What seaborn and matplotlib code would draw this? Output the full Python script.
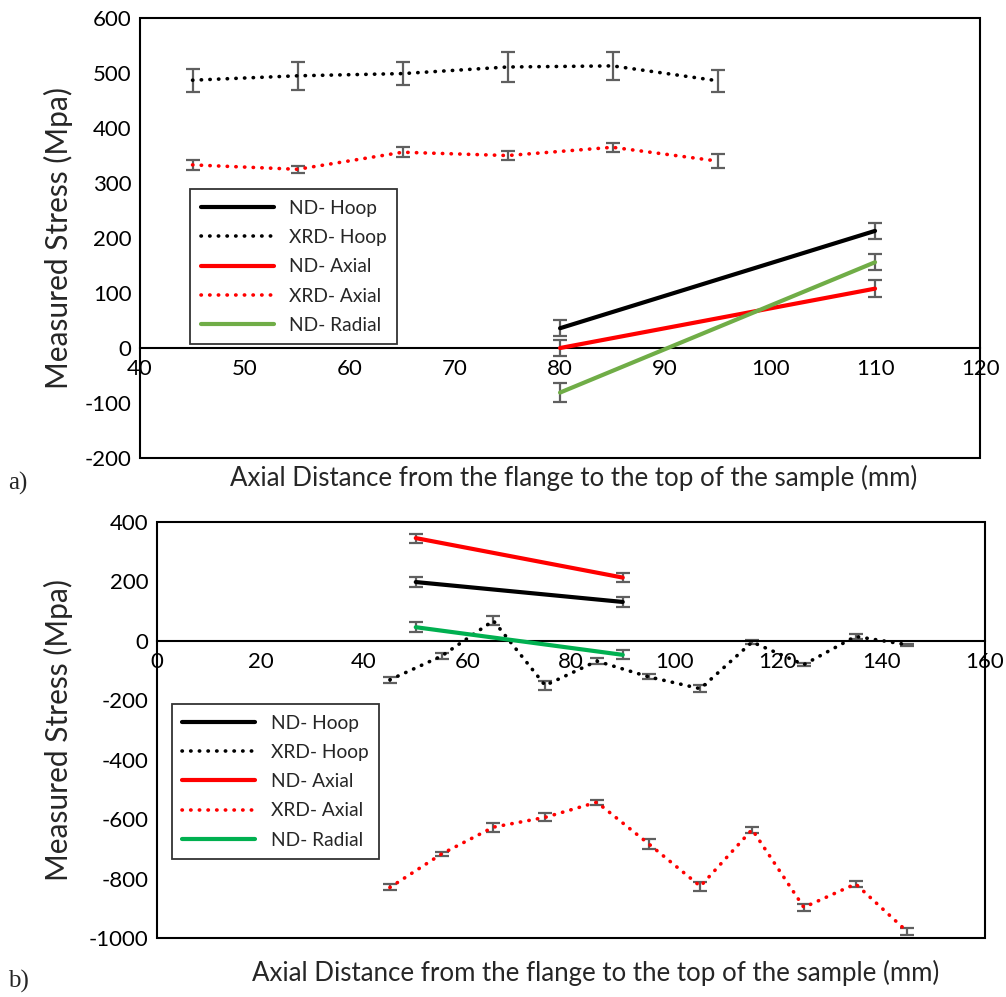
import numpy as np
import pandas as pd
import matplotlib
matplotlib.use('Agg')
import matplotlib.pyplot as plt
import seaborn as sns
from matplotlib.patches import Rectangle

sns.set_style('white')
plt.rcParams['font.family'] = ['Lato', 'DejaVu Sans']
plt.rcParams['axes.unicode_minus'] = False

# a) top chart
a_xrd_x = [45, 55, 65, 75, 85, 95]
a_xrd_hoop = [487, 495, 499, 511, 513, 486]
a_xrd_hoop_err = [21, 25, 21, 27, 26, 20]
a_xrd_axial = [333, 325, 356, 350, 365, 340]
a_xrd_axial_err = [9, 6, 9, 8, 8, 12]
a_nd_x = [80, 110]
a_nd_hoop = [36, 213]
a_nd_hoop_err = [15, 15]
a_nd_axial = [0, 108]
a_nd_axial_err = [15, 15]
a_nd_radial = [-81, 156]
a_nd_radial_err = [17, 15]

# b) bottom chart
b_nd_x = [50, 90]
b_nd_hoop = [198, 131]
b_nd_hoop_err = [17, 17]
b_nd_axial = [346, 213]
b_nd_axial_err = [15, 15]
b_nd_radial = [46, -47]
b_nd_radial_err = [17, 15]
b_xrd_x = [45, 55, 65, 75, 85, 95, 105, 115, 125, 135, 145]
b_xrd_hoop = [-131, -51, 68, -150, -68, -121, -161, -4, -80, 15, -13]
b_xrd_hoop_err = [10, 10, 15, 15, 10, 8, 12, 6, 6, 8, 4]
b_xrd_axial = [-830, -717, -627, -594, -543, -683, -826, -635, -897, -818, -979]
b_xrd_axial_err = [10, 8, 15, 13, 8, 17, 15, 10, 12, 10, 12]

labels = ['ND- Hoop', 'XRD- Hoop', 'ND- Axial', 'XRD- Axial', 'ND- Radial']
dot = (0, (0.1, 2.3))
err_col = '#5f5f5f'


def draw(ax, nd_x, nd, nd_err, xrd_x, xrd, xrd_err, green):
    series = [
        (nd_x, nd[0], nd_err[0], 'black', '-'),
        (xrd_x, xrd[0], xrd_err[0], 'black', dot),
        (nd_x, nd[1], nd_err[1], '#ff0000', '-'),
        (xrd_x, xrd[1], xrd_err[1], '#ff0000', dot),
        (nd_x, nd[2], nd_err[2], green, '-'),
    ]
    for (x, y, e, c, ls), lab in zip(series, labels):
        ax.errorbar(x, y, yerr=e, fmt='none', ecolor=err_col, elinewidth=1.6,
                    capsize=5, capthick=1.6, zorder=2)
        df = pd.DataFrame({'x': x, 'y': y})
        lw = 3.0 if ls == '-' else 2.6
        sns.lineplot(data=df, x='x', y='y', ax=ax, color=c, lw=lw, linestyle=ls,
                     dash_capstyle='round', label=lab, zorder=3)


def style(ax, xlim, ylim, xstep, ystep, leg_pos):
    ax.set_xlim(*xlim)
    ax.set_ylim(*ylim)
    ax.set_xticks(np.arange(xlim[0], xlim[1] + 1, xstep))
    ax.set_yticks(np.arange(ylim[0], ylim[1] + 1, ystep))
    for s in ['top', 'right', 'left']:
        ax.spines[s].set_visible(False)
    ax.spines['bottom'].set_position(('data', 0))
    ax.spines['bottom'].set_linewidth(1.5)
    ax.spines['bottom'].set_color('black')
    ax.add_patch(Rectangle((0, 0), 1, 1, transform=ax.transAxes, fill=False,
                           edgecolor='black', lw=1.5, clip_on=False, zorder=5))
    ax.tick_params(axis='both', direction='in', length=7, width=1.5,
                   labelsize=16, colors='black', pad=6)
    ax.tick_params(axis='x', pad=8)
    ax.set_ylabel('Measured Stress (Mpa)', fontsize=21.5)
    ax.set_xlabel('Axial Distance from the flange to the top of the sample (mm)', fontsize=18.6)
    leg = ax.legend(loc='upper left', bbox_to_anchor=leg_pos, fontsize=13.8,
                    frameon=True, fancybox=False, handlelength=3.8,
                    borderaxespad=0, labelspacing=0.64, borderpad=0.55)
    leg.get_frame().set_edgecolor('black')
    leg.get_frame().set_linewidth(1.3)


fig = plt.figure(figsize=(10.06, 9.97), dpi=100)
ax1 = fig.add_axes([0.1392, 0.5406, 0.835, 0.4413])
ax2 = fig.add_axes([0.1561, 0.0592, 0.823, 0.4172])

draw(ax1, a_nd_x, [a_nd_hoop, a_nd_axial, a_nd_radial],
     [a_nd_hoop_err, a_nd_axial_err, a_nd_radial_err],
     a_xrd_x, [a_xrd_hoop, a_xrd_axial], [a_xrd_hoop_err, a_xrd_axial_err], '#70ad47')
style(ax1, (40, 120), (-200, 600), 10, 100, (0.06, 0.611))
ax1.xaxis.set_label_coords(0.516, -0.016)
ax1.yaxis.set_label_coords(-0.080, 0.5)

draw(ax2, b_nd_x, [b_nd_hoop, b_nd_axial, b_nd_radial],
     [b_nd_hoop_err, b_nd_axial_err, b_nd_radial_err],
     b_xrd_x, [b_xrd_hoop, b_xrd_axial], [b_xrd_hoop_err, b_xrd_axial_err], '#00b050')
style(ax2, (0, 160), (-1000, 400), 20, 200, (0.018, 0.5625))
ax2.xaxis.set_label_coords(0.53, -0.053)
ax2.yaxis.set_label_coords(-0.101, 0.5)

fig.text(0.008, 0.5085, 'a)', fontsize=18, family='Liberation Serif')
fig.text(0.008, 0.009, 'b)', fontsize=18, family='Liberation Serif')

fig.savefig('out.png', dpi=100)
